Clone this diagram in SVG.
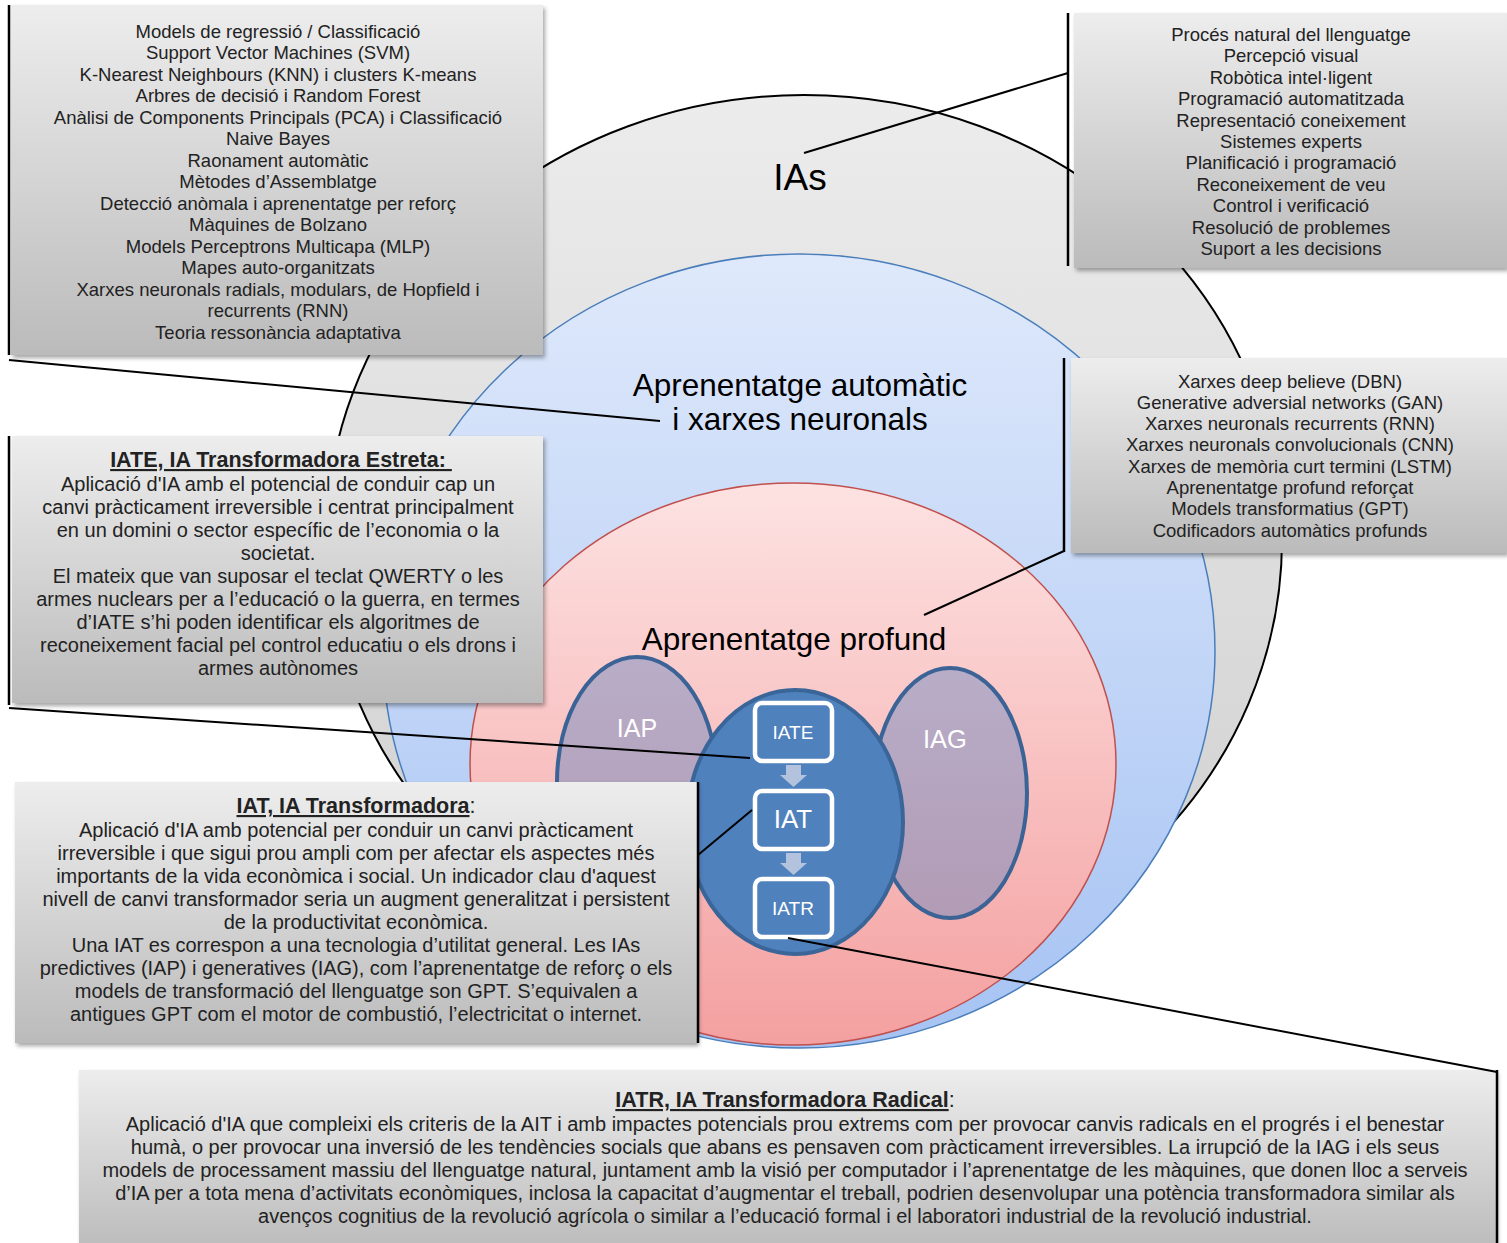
<svg xmlns="http://www.w3.org/2000/svg" width="1507" height="1243" viewBox="0 0 1507 1243">
<defs>
<linearGradient id="gGrey" x1="0" y1="0" x2="0" y2="1"><stop offset="0" stop-color="#ececec"/><stop offset="1" stop-color="#cfcfcf"/></linearGradient>
<linearGradient id="gBlue" x1="0" y1="0" x2="0" y2="1"><stop offset="0" stop-color="#dfe9fb"/><stop offset="1" stop-color="#a6c3f3"/></linearGradient>
<linearGradient id="gRed" x1="0" y1="0" x2="0" y2="1"><stop offset="0" stop-color="#fde2e2"/><stop offset="1" stop-color="#f4a0a0"/></linearGradient>
<linearGradient id="gPurple" x1="0" y1="0" x2="0" y2="1"><stop offset="0" stop-color="#b8adc8"/><stop offset="1" stop-color="#b29bb5"/></linearGradient>
<linearGradient id="gBox" x1="0" y1="0" x2="0" y2="1"><stop offset="0" stop-color="#ededed"/><stop offset="1" stop-color="#bbbbbb"/></linearGradient>
<filter id="sh" x="-5%" y="-5%" width="112%" height="120%"><feDropShadow dx="2" dy="3" stdDeviation="2" flood-color="#000" flood-opacity="0.35"/></filter>
<style>
.t{font-family:"Liberation Sans",Arial,sans-serif;font-size:18.5px;fill:#222;text-anchor:middle}
.t2{font-family:"Liberation Sans",Arial,sans-serif;font-size:20px;fill:#222;text-anchor:middle}
.hd{font-family:"Liberation Sans",Arial,sans-serif;font-size:21.5px;fill:#222;text-anchor:middle}
.big{font-family:"Liberation Sans",Arial,sans-serif;fill:#000;text-anchor:middle}
.w{font-family:"Liberation Sans",Arial,sans-serif;fill:#fff;text-anchor:middle}
.box{fill:url(#gBox);filter:url(#sh)}
.bar{stroke:#000;stroke-width:2.5;fill:none}
.ln{stroke:#000;stroke-width:2;fill:none}
.ib{fill:#4f81bd;stroke:#fff;stroke-width:4.5}
.arr{fill:#b3c3de}
.u{text-decoration:underline;font-weight:bold}
</style>
</defs>
<rect width="1507" height="1243" fill="#fff"/>

<g id="ias">
<ellipse cx="804" cy="540" rx="478" ry="445" fill="url(#gGrey)" stroke="#000" stroke-width="2"/>
<text class="big" x="800" y="190" font-size="37">IAs</text>
</g>
<g id="aprenentatge-automatic">
<ellipse cx="799" cy="651" rx="416" ry="397" fill="url(#gBlue)" stroke="#4a7ebb" stroke-width="1.5"/>
<text class="big" x="800" y="396" font-size="31.5">Aprenentatge automàtic</text>
<text class="big" x="800" y="430" font-size="31.5">i xarxes neuronals</text>
</g>
<g id="aprenentatge-profund">
<ellipse cx="793" cy="764" rx="323" ry="281" fill="url(#gRed)" stroke="#c0504d" stroke-width="1.5"/>
<text class="big" x="794" y="650" font-size="31.5">Aprenentatge profund</text>
</g>
<g id="iap">
<ellipse cx="637" cy="782" rx="80" ry="125" fill="url(#gPurple)" stroke="#3c6395" stroke-width="4"/>
<text class="w" x="637" y="737" font-size="25">IAP</text>
</g>
<g id="iag">
<ellipse cx="950" cy="793" rx="77" ry="125" fill="url(#gPurple)" stroke="#3c6395" stroke-width="4"/>
<text class="w" x="945" y="748" font-size="25.5">IAG</text>
</g>
<g id="iat-core">
<ellipse cx="795" cy="822" rx="108" ry="132" fill="#4f81bd" stroke="#3a6598" stroke-width="4"/>
</g>
<g id="node-iate">
<rect class="ib" x="755" y="703" width="77" height="58" rx="7"/>
<text class="w" x="793" y="739" font-size="19">IATE</text>
</g>
<g id="node-iat">
<rect class="ib" x="755" y="791" width="77" height="58" rx="7"/>
<text class="w" x="793" y="828" font-size="26">IAT</text>
</g>
<g id="node-iatr">
<rect class="ib" x="755" y="879" width="77" height="58" rx="7"/>
<text class="w" x="793" y="915" font-size="19">IATR</text>
</g>
<g id="arrows">
<path class="arr" d="M786,765 H801 V775 H807 L793.5,787 L780,775 H786 Z"/>
<path class="arr" d="M786,853 H801 V863 H807 L793.5,875 L780,863 H786 Z"/>
</g>

<g id="callout-ml">
<rect class="box" x="11" y="5" width="532" height="350"/>
<line class="bar" x1="9" y1="5" x2="9" y2="355"/>
<text class="t" x="278" y="37.5">Models de regressió / Classificació</text>
<text class="t" x="278" y="59">Support Vector Machines (SVM)</text>
<text class="t" x="278" y="80.5">K-Nearest Neighbours (KNN) i clusters K-means</text>
<text class="t" x="278" y="102">Arbres de decisió i Random Forest</text>
<text class="t" x="278" y="123.5">Anàlisi de Components Principals (PCA) i Classificació</text>
<text class="t" x="278" y="145">Naive Bayes</text>
<text class="t" x="278" y="166.5">Raonament automàtic</text>
<text class="t" x="278" y="188">Mètodes d’Assemblatge</text>
<text class="t" x="278" y="209.5">Detecció anòmala i aprenentatge per reforç</text>
<text class="t" x="278" y="231">Màquines de Bolzano</text>
<text class="t" x="278" y="252.5">Models Perceptrons Multicapa (MLP)</text>
<text class="t" x="278" y="274">Mapes auto-organitzats</text>
<text class="t" x="278" y="295.5">Xarxes neuronals radials, modulars, de Hopfield i</text>
<text class="t" x="278" y="317">recurrents (RNN)</text>
<text class="t" x="278" y="338.5">Teoria ressonància adaptativa</text>
</g>

<g id="callout-ias">
<rect class="box" x="1074" y="13" width="433" height="255"/>
<line class="bar" x1="1068" y1="13" x2="1068" y2="266"/>
<text class="t" x="1291" y="41">Procés natural del llenguatge</text>
<text class="t" x="1291" y="62.4">Percepció visual</text>
<text class="t" x="1291" y="83.8">Robòtica intel·ligent</text>
<text class="t" x="1291" y="105.2">Programació automatitzada</text>
<text class="t" x="1291" y="126.6">Representació coneixement</text>
<text class="t" x="1291" y="148">Sistemes experts</text>
<text class="t" x="1291" y="169.4">Planificació i programació</text>
<text class="t" x="1291" y="190.8">Reconeixement de veu</text>
<text class="t" x="1291" y="212.2">Control i verificació</text>
<text class="t" x="1291" y="233.6">Resolució de problemes</text>
<text class="t" x="1291" y="255">Suport a les decisions</text>
</g>

<g id="callout-dl">
<rect class="box" x="1071" y="358" width="436" height="195"/>
<line class="bar" x1="1064" y1="358" x2="1064" y2="552"/>
<text class="t" x="1290" y="387.5">Xarxes deep believe (DBN)</text>
<text class="t" x="1290" y="408.8">Generative adversial networks (GAN)</text>
<text class="t" x="1290" y="430.1">Xarxes neuronals recurrents (RNN)</text>
<text class="t" x="1290" y="451.4">Xarxes neuronals convolucionals (CNN)</text>
<text class="t" x="1290" y="472.7">Xarxes de memòria curt termini (LSTM)</text>
<text class="t" x="1290" y="494">Aprenentatge profund reforçat</text>
<text class="t" x="1290" y="515.3">Models transformatius (GPT)</text>
<text class="t" x="1290" y="536.6">Codificadors automàtics profunds</text>
</g>

<g id="callout-iate">
<rect class="box" x="12" y="436" width="531" height="267"/>
<line class="bar" x1="9" y1="436" x2="9" y2="705"/>
<text class="hd" x="281" y="467" style="white-space:pre"><tspan class="u">IATE, IA Transformadora Estreta: </tspan></text>
<text class="t2" x="278" y="491">Aplicació d'IA amb el potencial de conduir cap un</text>
<text class="t2" x="278" y="514">canvi pràcticament irreversible i centrat principalment</text>
<text class="t2" x="278" y="537">en un domini o sector específic de l’economia o la</text>
<text class="t2" x="278" y="560">societat.</text>
<text class="t2" x="278" y="583">El mateix que van suposar el teclat QWERTY o les</text>
<text class="t2" x="278" y="606">armes nuclears per a l’educació o la guerra, en termes</text>
<text class="t2" x="278" y="629">d’IATE s’hi poden identificar els algoritmes de</text>
<text class="t2" x="278" y="652">reconeixement facial pel control educatiu o els drons i</text>
<text class="t2" x="278" y="675">armes autònomes</text>
</g>

<g id="callout-iat">
<rect class="box" x="15" y="782" width="682" height="261"/>
<line class="bar" x1="698" y1="782" x2="698" y2="1043"/>
<text class="hd" x="356" y="813"><tspan class="u">IAT, IA Transformadora</tspan>:</text>
<text class="t2" x="356" y="837">Aplicació d'IA amb potencial per conduir un canvi pràcticament</text>
<text class="t2" x="356" y="860">irreversible i que sigui prou ampli com per afectar els aspectes més</text>
<text class="t2" x="356" y="883">importants de la vida econòmica i social. Un indicador clau d'aquest</text>
<text class="t2" x="356" y="906">nivell de canvi transformador seria un augment generalitzat i persistent</text>
<text class="t2" x="356" y="929">de la productivitat econòmica.</text>
<text class="t2" x="356" y="952">Una IAT es correspon a una tecnologia d’utilitat general. Les IAs</text>
<text class="t2" x="356" y="975">predictives (IAP) i generatives (IAG), com l’aprenentatge de reforç o els</text>
<text class="t2" x="356" y="998">models de transformació del llenguatge son GPT. S’equivalen a</text>
<text class="t2" x="356" y="1021">antigues GPT com el motor de combustió, l’electricitat o internet.</text>
</g>

<g id="callout-iatr">
<rect class="box" x="79" y="1070" width="1417" height="180"/>
<line class="bar" x1="1497" y1="1070" x2="1497" y2="1243"/>
<text class="hd" x="785" y="1107"><tspan class="u">IATR, IA Transformadora Radical</tspan>:</text>
<text class="t2" x="785" y="1131">Aplicació d'IA que compleixi els criteris de la AIT i amb impactes potencials prou extrems com per provocar canvis radicals en el progrés i el benestar</text>
<text class="t2" x="785" y="1154">humà, o per provocar una inversió de les tendències socials que abans es pensaven com pràcticament irreversibles. La irrupció de la IAG i els seus</text>
<text class="t2" x="785" y="1177">models de processament massiu del llenguatge natural, juntament amb la visió per computador i l’aprenentatge de les màquines, que donen lloc a serveis</text>
<text class="t2" x="785" y="1200">d’IA per a tota mena d’activitats econòmiques, inclosa la capacitat d’augmentar el treball, podrien desenvolupar una potència transformadora similar als</text>
<text class="t2" x="785" y="1223">avenços cognitius de la revolució agrícola o similar a l’educació formal i el laboratori industrial de la revolució industrial.</text>
</g>

<g id="connectors">
<line class="ln" x1="9" y1="360" x2="660" y2="421"/>
<line class="ln" x1="1068" y1="73" x2="804" y2="153"/>
<line class="ln" x1="1064" y1="551" x2="924" y2="615"/>
<line class="ln" x1="9" y1="708" x2="750" y2="758"/>
<line class="ln" x1="698" y1="855" x2="752" y2="810"/>
<line class="ln" x1="1497" y1="1072" x2="788" y2="938"/>
</g>
</svg>
